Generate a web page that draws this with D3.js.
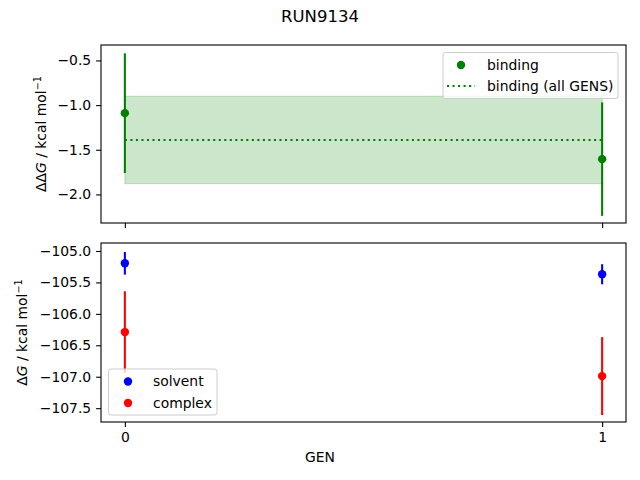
<!DOCTYPE html>
<html>
<head>
<meta charset="utf-8">
<script src="https://cdn.jsdelivr.net/npm/d3@7"></script>
<style>
  body { margin: 0; background: #fff; }
  svg text { font-family: "DejaVu Sans", sans-serif; fill: #000; }
</style>
</head>
<body>
<svg id="chart" width="640" height="480"></svg>
<script>
// values
const gens = [0, 1];
const bindingVals = [-1.09, -1.605];
const bindingErr = [0.67, 0.635];
const bindingMean = -1.39;
const bindingMeanErr = 0.49;
const solventVals = [-105.196, -105.37];
const solventErr = [0.18, 0.16];
const complexVals = [-106.29, -106.99];
const complexErr = [0.65, 0.62];
const topTicks = [-0.5, -1.0, -1.5, -2.0];
const bottomTicks = [-105.0, -105.5, -106.0, -106.5, -107.0, -107.5];

const svg = d3.select('#chart');
const left = 101, right = 626;
const topPanel = {y0: 45, y1: 223};
const botPanel = {y0: 243, y1: 422};

const x = d3.scaleLinear().domain([-0.05, 1.05]).range([left, right]);
const yTop = d3.scaleLinear().domain([-2.32, -0.327]).range([topPanel.y1, topPanel.y0]);
const yBot = d3.scaleLinear().domain([-107.72, -104.873]).range([botPanel.y1, botPanel.y0]);

const fmtMinus = s => s.replace('-', '\u2212');

svg.append('text').attr('x', 320).attr('y', 22).attr('text-anchor', 'middle')
   .style('font-size', '16.5px').text('RUN9134');

// ---- top panel ----
const gTop = svg.append('g');
gTop.append('rect')
    .attr('x', x(0)).attr('width', x(1) - x(0))
    .attr('y', yTop(bindingMean + bindingMeanErr))
    .attr('height', yTop(bindingMean - bindingMeanErr) - yTop(bindingMean + bindingMeanErr))
    .attr('fill', 'rgba(0,128,0,0.2)').attr('stroke', 'rgba(0,128,0,0.2)').attr('stroke-width', 1);
gTop.append('line')
    .attr('x1', x(0)).attr('x2', x(1))
    .attr('y1', yTop(bindingMean)).attr('y2', yTop(bindingMean))
    .attr('stroke', 'green').attr('stroke-width', 2.08).attr('stroke-dasharray', '2.08,3.44');

function drawErr(g, y, vals, errs, color) {
  g.selectAll(null).data(gens).enter().append('line')
   .attr('x1', d => x(d)).attr('x2', d => x(d))
   .attr('y1', (d, i) => y(vals[i] + errs[i]))
   .attr('y2', (d, i) => y(vals[i] - errs[i]))
   .attr('stroke', color).attr('stroke-width', 2.08);
  g.selectAll(null).data(gens).enter().append('circle')
   .attr('cx', d => x(d)).attr('cy', (d, i) => y(vals[i]))
   .attr('r', 4.2).attr('fill', color);
}
drawErr(gTop, yTop, bindingVals, bindingErr, 'green');

// ---- bottom panel ----
const gBot = svg.append('g');
drawErr(gBot, yBot, solventVals, solventErr, 'blue');
drawErr(gBot, yBot, complexVals, complexErr, 'red');

// frames and axes
function frame(p) {
  svg.append('rect').attr('x', left).attr('y', p.y0)
     .attr('width', right - left).attr('height', p.y1 - p.y0)
     .attr('fill', 'none').attr('stroke', '#000').attr('stroke-width', 1.1);
}
frame(topPanel);
frame(botPanel);

function styleAxis(g) {
  g.select('.domain').remove();
  g.selectAll('line').attr('stroke', '#000').attr('stroke-width', 1.1);
  g.selectAll('text').style('font-size', '13.9px').style('font-family', '"DejaVu Sans", sans-serif');
}

svg.append('g').attr('transform', `translate(${left},0)`)
   .call(d3.axisLeft(yTop).tickValues(topTicks).tickSize(4.9).tickPadding(4.9)
         .tickFormat(d => fmtMinus(d3.format('.1f')(d))))
   .call(styleAxis);
svg.append('g').attr('transform', `translate(${left},0)`)
   .call(d3.axisLeft(yBot).tickValues(bottomTicks).tickSize(4.9).tickPadding(4.9)
         .tickFormat(d => fmtMinus(d3.format('.1f')(d))))
   .call(styleAxis);
svg.append('g').attr('transform', `translate(0,${topPanel.y1})`)
   .call(d3.axisBottom(x).tickValues(gens).tickSize(4.9).tickFormat(''))
   .call(styleAxis);
svg.append('g').attr('transform', `translate(0,${botPanel.y1})`)
   .call(d3.axisBottom(x).tickValues(gens).tickSize(4.9).tickPadding(4.9).tickFormat(d3.format('d')))
   .call(styleAxis);

// axis labels
svg.append('text').attr('x', 320).attr('y', 462).attr('text-anchor', 'middle')
   .style('font-size', '13.9px').text('GEN');

function yLabel(xPos, yMid, prefix) {
  const t = svg.append('text')
     .attr('transform', `translate(${xPos},${yMid}) rotate(-90)`)
     .attr('text-anchor', 'middle').style('font-size', '13.9px');
  t.append('tspan').text(prefix);
  t.append('tspan').style('font-style', 'italic').text('G');
  t.append('tspan').text(' / kcal mol');
  t.append('tspan').attr('dy', -5).style('font-size', '9.7px').text('\u22121');
}
yLabel(46, (topPanel.y0 + topPanel.y1) / 2, '\u0394\u0394');
yLabel(27, (botPanel.y0 + botPanel.y1) / 2, '\u0394');

// legends
function legend(x0, y0, w, h) {
  svg.append('rect').attr('x', x0).attr('y', y0).attr('width', w).attr('height', h)
     .attr('rx', 2.5).attr('fill', 'rgba(255,255,255,0.8)')
     .attr('stroke', '#ccc').attr('stroke-width', 1);
}
legend(443, 52.5, 175, 46);
svg.append('circle').attr('cx', 461).attr('cy', 65).attr('r', 4.2).attr('fill', 'green');
svg.append('text').attr('x', 487).attr('y', 70).style('font-size', '13.9px').text('binding');
svg.append('line').attr('x1', 447).attr('x2', 475).attr('y1', 86).attr('y2', 86)
   .attr('stroke', 'green').attr('stroke-width', 2.08).attr('stroke-dasharray', '2.08,3.44');
svg.append('text').attr('x', 487).attr('y', 91).style('font-size', '13.9px').text('binding (all GENS)');

legend(108.5, 369, 108.5, 46);
svg.append('circle').attr('cx', 128).attr('cy', 381.5).attr('r', 4.2).attr('fill', 'blue');
svg.append('text').attr('x', 153).attr('y', 386).style('font-size', '13.9px').text('solvent');
svg.append('circle').attr('cx', 128).attr('cy', 403).attr('r', 4.2).attr('fill', 'red');
svg.append('text').attr('x', 153).attr('y', 407.5).style('font-size', '13.9px').text('complex');
</script>
</body>
</html>
